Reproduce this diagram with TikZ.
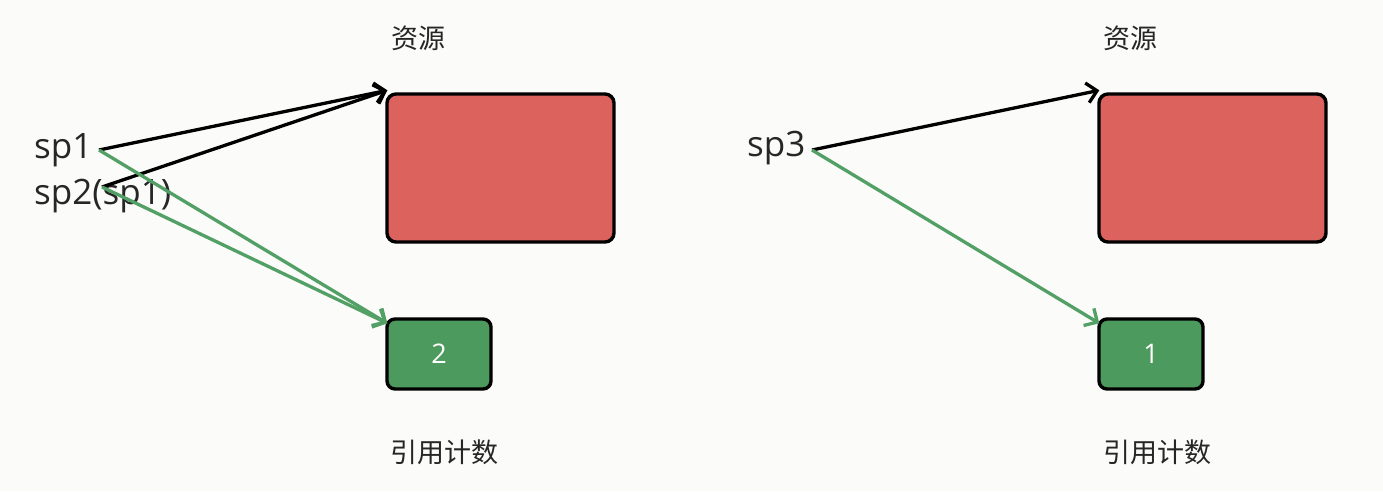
\documentclass[tikz,border=0pt]{standalone}
\usepackage{fontspec}
\setmainfont{Open Sans}
\newfontfamily\cjk{Noto Sans CJK SC}
\usetikzlibrary{arrows.meta}
\definecolor{bg}{HTML}{FBFBF9}
\definecolor{resred}{HTML}{DC625D}
\definecolor{cntgreen}{HTML}{4C9A5E}
\definecolor{arrgreen}{HTML}{52A065}
\tikzset{
  resbox/.style={draw=black, line width=3.4pt, fill=resred, rounded corners=9pt, minimum width=227pt, minimum height=148pt, inner sep=0pt},
  cntbox/.style={draw=black, line width=3.4pt, fill=cntgreen, rounded corners=8pt, minimum width=104pt, minimum height=70pt, inner sep=0pt, text=white, font=\fontsize{27}{30}\selectfont},
  captext/.style={font=\cjk\fontsize{27}{30}\selectfont, text=black!85},
  ptr/.style={font=\fontsize{35}{40}\selectfont, text=black!85, inner sep=0pt},
  blackarr/.style={line width=3.3pt, black, -{Straight Barb[length=10pt,width=20pt,line width=3.3pt]}},
  greenarr/.style={line width=3.3pt, arrgreen, -{Straight Barb[length=10pt,width=20pt,line width=3.3pt]}}
}
\begin{document}
\begin{tikzpicture}[x=1pt,y=-1pt]
\fill[bg] (0,0) rectangle (1383,491);
\useasboundingbox (0,0) rectangle (1383,491);
% left group
\node[resbox] (res1) at (500.5,168) {};
\node[cntbox] (cnt1) at (439,354) {2};
\node[captext] (t1) at (418,38) {资源};
\node[captext] (c1) at (444,452) {引用计数};
\node[ptr, anchor=west] (sp1) at (34,150) {sp1};
\node[ptr, anchor=west] (sp2) at (34,196) {sp2(sp1)};
\coordinate (s1) at (99,150);
\coordinate (s2) at (102,187);
\coordinate (r1) at ([xshift=2pt,yshift=2pt]res1.north west);
\coordinate (g1) at ([xshift=2pt,yshift=-6pt]cnt1.north west);
\draw[blackarr] (s1) -- (r1);
\draw[blackarr] (s2) -- (r1);
\draw[greenarr] (s1) -- (g1);
\draw[greenarr] (s2) -- (g1);
% right group
\node[resbox] (res2) at (1212.5,168) {};
\node[cntbox] (cnt2) at (1151,354) {1};
\node[captext] (t2) at (1130,38) {资源};
\node[captext] (c2) at (1157,452) {引用计数};
\node[ptr, anchor=west] (sp3) at (747,148) {sp3};
\coordinate (s3) at (812,150);
\coordinate (r2) at ([xshift=2pt,yshift=2pt]res2.north west);
\coordinate (g2) at ([xshift=2pt,yshift=-6pt]cnt2.north west);
\draw[blackarr] (s3) -- (r2);
\draw[greenarr] (s3) -- (g2);
\end{tikzpicture}
\end{document}
